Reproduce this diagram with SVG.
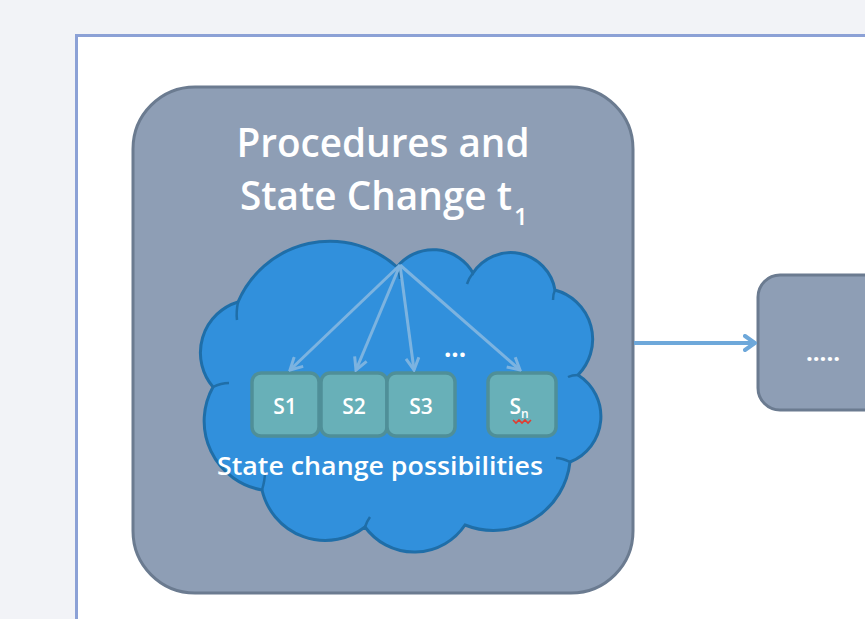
<svg xmlns="http://www.w3.org/2000/svg" width="865" height="619" viewBox="0 0 865 619">
<defs>
<style>
.box{fill:#8e9eb5;stroke:#6b7b90;stroke-width:3}
.st{fill:#68b0b8;stroke:#4f8f98;stroke-width:3.5}
.wt{fill:#ffffff;font-family:"Open Sans","Liberation Sans",sans-serif}
.inner{fill:none;stroke:#7cb3e0;stroke-width:3}
.notch{fill:none;stroke:#1f6ea8;stroke-width:2.5}
</style>
<marker id="ah" viewBox="0 0 16 16" refX="14" refY="8" markerWidth="16" markerHeight="16" markerUnits="userSpaceOnUse" orient="auto">
<path d="M2,1.5 L14,8 L2,14.5" fill="none" stroke="#7cb3e0" stroke-width="3"/>
</marker>
<marker id="ah2" viewBox="0 0 14 18" refX="12" refY="9" markerWidth="14" markerHeight="18" markerUnits="userSpaceOnUse" orient="auto">
<path d="M2,2 L12,9 L2,16" fill="none" stroke="#6ea8da" stroke-width="4" stroke-linecap="round"/>
</marker>
</defs>
<rect x="0" y="0" width="865" height="619" fill="#f2f3f7"/>
<rect x="76.5" y="35.5" width="900" height="700" fill="#ffffff" stroke="#8ca1d6" stroke-width="3"/>
<g id="procedures">
<rect class="box" x="133" y="87" width="500" height="506" rx="62"/>
<text class="wt" x="383" y="157" font-size="40" font-weight="600" text-anchor="middle" textLength="293" lengthAdjust="spacingAndGlyphs">Procedures and</text>
<text class="wt" x="240" y="210" font-size="40" font-weight="600"><tspan textLength="272" lengthAdjust="spacingAndGlyphs">State Change t</tspan><tspan font-size="24" dx="2" dy="15">1</tspan></text>
</g>
<g id="cloud">
<path d="M238,302 A100,100 0 0 1 397,267 A46,46 0 0 1 473,273 A45,45 0 0 1 555,290 A51,51 0 0 1 578,375 A49,49 0 0 1 570,462 A77,77 0 0 1 465,525 A61,61 0 0 1 365,527 A65,65 0 0 1 262,490 A70,70 0 0 1 213,387 A53,53 0 0 1 238,302 Z" fill="#3190dc" stroke="#1f6ea8" stroke-width="3"/>
<path class="notch" d="M397,267 q3,6 3,12"/>
<path class="notch" d="M473,273 q-4,5 -6,11"/>
<path class="notch" d="M555,290 q-2,4 -2,10"/>
<path class="notch" d="M578,375 q-6,0 -10,2"/>
<path class="notch" d="M570,462 q-8,-4 -14,-4"/>
<path class="notch" d="M365,527 q2,-6 5,-10"/>
<path class="notch" d="M262,490 q3,-10 3,-18"/>
<path class="notch" d="M213,387 q8,-4 16,-4"/>
<path class="notch" d="M238,302 q-2,10 -1,18"/>
<text class="wt" x="380" y="475" font-size="25" font-weight="600" text-anchor="middle" textLength="326" lengthAdjust="spacingAndGlyphs">State change possibilities</text>
<text class="wt" x="455" y="357" font-size="26" font-weight="bold" text-anchor="middle">...</text>
</g>
<g id="s1">
<rect class="st" x="252" y="373" width="67" height="63" rx="9"/>
<text class="wt" x="285" y="414" font-size="21" font-weight="600" text-anchor="middle">S1</text>
</g>
<g id="s2">
<rect class="st" x="321" y="373" width="66" height="63" rx="9"/>
<text class="wt" x="354" y="414" font-size="21" font-weight="600" text-anchor="middle">S2</text>
</g>
<g id="s3">
<rect class="st" x="387" y="373" width="68" height="63" rx="9"/>
<text class="wt" x="421" y="414" font-size="21" font-weight="600" text-anchor="middle">S3</text>
</g>
<g id="sn">
<rect class="st" x="488" y="373" width="68" height="63" rx="9"/>
<text class="wt" x="519" y="414" font-size="21" font-weight="600" text-anchor="middle">S<tspan font-size="12" dy="4">n</tspan></text>
<path d="M513,420 l3,3 l3,-3 l3,3 l3,-3 l3,3 l3,-3" fill="none" stroke="#e03c31" stroke-width="1.6"/>
</g>
<g id="next">
<rect class="box" x="758" y="275" width="140" height="135" rx="22"/>
<text class="wt" x="823" y="361" font-size="24" font-weight="bold" text-anchor="middle">.....</text>
</g>
<g id="connectors">
<line class="inner" x1="400" y1="265" x2="290" y2="370" marker-end="url(#ah)"/>
<line class="inner" x1="400" y1="265" x2="356" y2="370" marker-end="url(#ah)"/>
<line class="inner" x1="400" y1="265" x2="414" y2="370" marker-end="url(#ah)"/>
<line class="inner" x1="400" y1="265" x2="520" y2="370" marker-end="url(#ah)"/>
<line x1="634" y1="343" x2="755" y2="343" stroke="#6ea8da" stroke-width="4" marker-end="url(#ah2)"/>
</g>
</svg>
